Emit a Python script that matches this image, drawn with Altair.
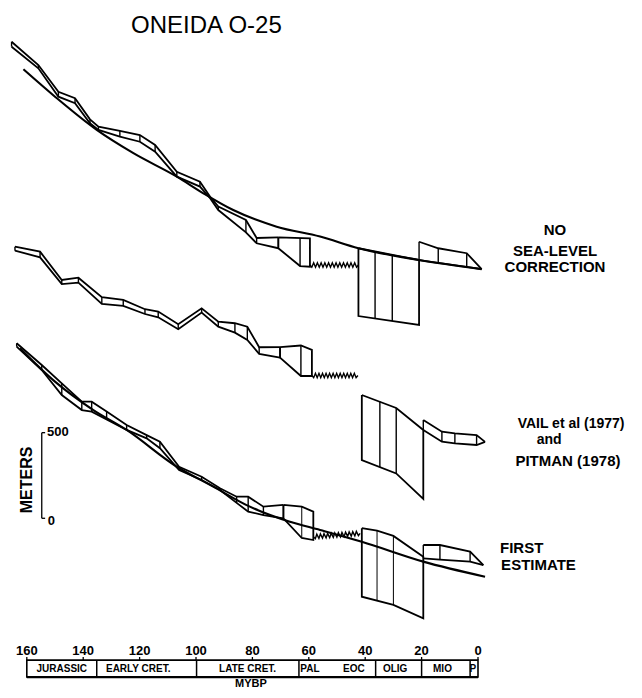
import altair as alt
import pandas as pd

# ---------------- values ----------------
# ages in Ma (MYBP), vertical values in metres on the figure's 0-500 m bar

# NO SEA-LEVEL CORRECTION (top panel)
TOP_AGE = [165.4, 155.9, 148.8, 142.9, 137.6, 134.6, 127.0, 119.9, 114.5, 106.8, 98.6, 95.0, 92.1, 82.3, 78.5, 70.8]
TOP_HI = [2783, 2647, 2491, 2453, 2330, 2287, 2262, 2238, 2180, 2024, 1966, 1878, 1820, 1742, 1637, 1640]
TOP_LO = [2754, 2628, 2462, 2424, 2307, 2268, 2229, 2199, 2141, 1995, 1937, 1869, 1800, 1670, 1606, 1577]
TOP_CURVE_AGE = [161.2, 150.0, 135.2, 122.2, 106.8, 97.4, 86.8, 71.4, 56.0, 42.4, 20.9, -1.3]
TOP_CURVE_M = [2622, 2462, 2268, 2132, 1995, 1898, 1800, 1703, 1645, 1577, 1508, 1455]
TOP_TRAP_AGE = [70.8, 59.6, 59.6, 63.1, 70.8]
TOP_TRAP_M = [1640, 1635, 1469, 1473, 1577]
TOP_TRAP_INNER = [(63.1, 1637, 1473)]
TOP_BOX_AGE = [42.4, 20.9, 20.9, 42.4]
TOP_BOX_M = [1577, 1508, 1129, 1181]
TOP_BOX_INNER = [(36.5, 1558, 1167), (30.4, 1538, 1152)]
TOP_MIO_AGE = [20.9, 14.1, 4.0, -1.3]
TOP_MIO_HI = [1615, 1577, 1548, 1455]
TOP_MIO_LO = [1508, 1492, 1468, 1455]
TOP_GAP = [(59.6, 1469), (42.4, 1489)]

# VAIL et al (1977) and PITMAN (1978) (middle panel)
MID_AGE = [164.2, 155.3, 147.6, 141.7, 133.4, 125.8, 118.1, 113.4, 106.3, 98.0, 92.1, 86.2, 81.8, 77.6, 70.2]
MID_HI = [1586, 1557, 1392, 1405, 1291, 1275, 1221, 1207, 1133, 1226, 1148, 1139, 1119, 999, 1000]
MID_LO = [1563, 1524, 1368, 1376, 1252, 1240, 1193, 1174, 1104, 1201, 1119, 1084, 1041, 960, 938]
MID_TRAP_AGE = [70.2, 62.8, 58.9, 58.9, 62.8, 70.2]
MID_TRAP_M = [1000, 1009, 983, 831, 831, 938]
MID_TRAP_INNER = [(62.8, 1009, 831)]
MID_BOX_AGE = [41.2, 29.0, 19.4, 19.4, 29.0, 41.2]
MID_BOX_M = [720, 644, 516, 113, 262, 340]
MID_BOX_INNER = [(34.8, 682, 300), (29.0, 644, 262)]
MID_MIO_AGE = [19.4, 12.8, 8.2, 0.5, -2.5]
MID_MIO_HI = [574, 506, 496, 486, 446]
MID_MIO_LO = [516, 447, 437, 428, 446]
MID_GAP = [(58.9, 831), (42.6, 837)]

# FIRST ESTIMATE (bottom panel)
BOT_AGE = [163.6, 154.7, 147.6, 140.5, 137.0, 131.7, 124.6, 117.5, 112.8, 106.0, 98.0, 91.5, 85.6, 81.5, 76.1, 69.0]
BOT_HI = [1022, 895, 788, 681, 681, 623, 545, 486, 447, 301, 243, 175, 126, 126, 68, 78]
BOT_LO = [1002, 866, 720, 632, 623, 577, 516, 467, 409, 282, 224, 165, 90, 39, 19, 0]
BOT_CURVE_AGE = [162.4, 150.0, 136.4, 124.6, 106.8, 93.9, 80.9, 66.7, 56.0, 41.2, 19.4, -2.5]
BOT_CURVE_M = [993, 798, 632, 516, 301, 185, 68, -20, -68, -137, -253, -341]
BOT_TRAP_AGE = [69.0, 62.5, 58.4, 58.4, 62.5, 69.0]
BOT_TRAP_M = [78, 68, 39, -127, -115, 0]
BOT_TRAP_INNER = [(62.5, 68, -115)]
BOT_BOX_AGE = [41.2, 35.8, 30.0, 19.4, 19.4, 30.0, 41.2]
BOT_BOX_M = [-58, -72, -103, -224, -584, -506, -458]
BOT_BOX_INNER = [(35.8, -72, -481), (30.0, -103, -506)]
BOT_MIO_AGE = [19.4, 13.5, 2.8, -1.9]
BOT_MIO_HI = [-156, -156, -195, -273]
BOT_MIO_LO = [-234, -241, -253, -273]
BOT_GAP = [(58.4, -107), (41.8, -88)]

# time scale
TICK_AGES = [160, 140, 120, 100, 80, 60, 40, 20, 0]
PERIOD_BOUNDS = [135.2, 99.8, 63.5, 36.3, 20.0, 2.8]
PERIOD_LABELS = ["JURASSIC", "EARLY CRET.", "LATE  CRET.", "PAL", "EOC", "OLIG", "MIO", "P"]
PERIOD_LABEL_AGES = [147.6, 120.5, 81.7, 59.6, 44.0, 29.4, 12.6, 1.8]
TIMESCALE_M = (-828, -927)
TICKLABEL_M = -775

# metre scale bar
BAR_AGE = 154.7
BAR_VALUES = [0, 500]

# ---------------- chart ----------------
W, H = 626, 682
X_DOMAIN = [166.67, -55.32]
Y_DOMAIN = [-1002.7, 2980.0]
PX_PER_MA = W / (X_DOMAIN[0] - X_DOMAIN[1])

xs = alt.Scale(domain=X_DOMAIN, nice=False, zero=False)
ys = alt.Scale(domain=Y_DOMAIN, nice=False, zero=False)
FONT = "Liberation Sans"

line_rows, curve_rows, tie_rows = [], [], []


def add_line(rows, name, ages, ms, closed=False):
    pts = list(zip(ages, ms))
    if closed:
        pts.append(pts[0])
    for i, (a, m) in enumerate(pts):
        rows.append({"g": name, "i": i, "age": a, "m": m})


def add_band(name, ages, hi, lo):
    add_line(line_rows, name + "_hi", ages, hi)
    add_line(line_rows, name + "_lo", ages, lo)
    for a, h, l in zip(ages, hi, lo):
        tie_rows.append({"age": a, "m1": h, "m2": l, "w": 1.4})


def add_inner(items, w=1.4):
    for a, h, l in items:
        tie_rows.append({"age": a, "m1": h, "m2": l, "w": w})


add_band("top", TOP_AGE, TOP_HI, TOP_LO)
add_band("topmio", TOP_MIO_AGE, TOP_MIO_HI, TOP_MIO_LO)
add_line(line_rows, "toptrap", TOP_TRAP_AGE, TOP_TRAP_M, closed=True)
add_line(line_rows, "topbox", TOP_BOX_AGE, TOP_BOX_M, closed=True)
add_inner(TOP_TRAP_INNER)
add_inner(TOP_BOX_INNER)
add_line(curve_rows, "topcurve", TOP_CURVE_AGE, TOP_CURVE_M)

add_band("mid", MID_AGE, MID_HI, MID_LO)
add_band("midmio", MID_MIO_AGE, MID_MIO_HI, MID_MIO_LO)
add_line(line_rows, "midtrap", MID_TRAP_AGE, MID_TRAP_M, closed=True)
add_line(line_rows, "midbox", MID_BOX_AGE, MID_BOX_M, closed=True)
add_inner(MID_TRAP_INNER)
add_inner(MID_BOX_INNER)

add_band("bot", BOT_AGE, BOT_HI, BOT_LO)
add_band("botmio", BOT_MIO_AGE, BOT_MIO_HI, BOT_MIO_LO)
add_line(line_rows, "bottrap", BOT_TRAP_AGE, BOT_TRAP_M, closed=True)
add_line(line_rows, "botbox", BOT_BOX_AGE, BOT_BOX_M, closed=True)
add_inner(BOT_TRAP_INNER, 1.0)
add_inner(BOT_BOX_INNER, 1.0)
add_line(curve_rows, "botcurve", BOT_CURVE_AGE, BOT_CURVE_M)

X = alt.X("age:Q", scale=xs, axis=None)
Y = alt.Y("m:Q", scale=ys, axis=None)

lines = alt.Chart(pd.DataFrame(line_rows)).mark_line(
    color="black", strokeWidth=1.8, strokeJoin="miter"
).encode(x=X, y=Y, detail="g:N", order="i:Q")

curves = alt.Chart(pd.DataFrame(curve_rows)).mark_line(
    color="black", strokeWidth=2.1, interpolate="monotone"
).encode(x=X, y=Y, detail="g:N", order="i:Q")

ties = alt.Chart(pd.DataFrame(tie_rows)).mark_rule(color="black").encode(
    x=alt.X("age:Q", scale=xs, axis=None),
    y=alt.Y("m1:Q", scale=ys, axis=None),
    y2="m2:Q",
    strokeWidth=alt.StrokeWidth("w:Q", scale=None),
)


def zigzag_shape(teeth, amp):
    n = teeth * 2
    pts = []
    for k in range(n + 1):
        x = -1 + 2 * k / n
        y = 0 if k in (0, n) else (amp if k % 2 else -amp)
        pts.append(f"{x:.4f},{y:.4f}")
    return "M" + "L".join(pts)


def zigzag(gap, angle=0):
    (a1, m1), (a2, m2) = gap
    width_px = abs(a1 - a2) * PX_PER_MA
    df = pd.DataFrame({"age": [(a1 + a2) / 2], "m": [(m1 + m2) / 2]})
    kw = dict(shape=zigzag_shape(int(round(width_px / 3.6)), 2.2 / (width_px / 2)),
              size=width_px ** 2, filled=False, stroke="black", strokeWidth=1.4, opacity=1)
    if angle:
        kw["angle"] = angle
    return alt.Chart(df).mark_point(**kw).encode(x=X, y=Y)


zigs = [zigzag(TOP_GAP), zigzag(MID_GAP), zigzag(BOT_GAP, 356)]


def label(txt, age, m, size, align="center", weight="bold", angle=None, baseline="middle"):
    df = pd.DataFrame({"t": [txt], "age": [age], "m": [m]})
    kw = dict(font=FONT, fontSize=size, fontWeight=weight, align=align, baseline=baseline, color="black")
    if angle is not None:
        kw["angle"] = angle
    return alt.Chart(df).mark_text(**kw).encode(x=X, y=Y, text="t:N")


texts = [
    label("ONEIDA O-25", 96.3, 2875, 24, weight="normal"),
    label("NO", -27.3, 1684, 15),
    label("SEA-LEVEL", -27.3, 1561, 15),
    label("CORRECTION", -27.3, 1470, 15),
    label("VAIL et al (1977)", -33.0, 551, 14),
    label("and", -25.2, 457, 14),
    label("PITMAN (1978)", -31.9, 332, 15),
    label("FIRST", -7.8, -173, 15, align="left"),
    label("ESTIMATE", -8.2, -273, 15, align="left"),
    label("METERS", 160.0, 224, 16, angle=270),
    label("500", 152.8, 506, 13, align="left"),
    label("0", 152.6, -16, 13, align="left"),
    label("MYBP", 80.5, -970, 11),
]

# metre scale bar
bar_df = pd.DataFrame({"age": [BAR_AGE], "m1": [BAR_VALUES[0]], "m2": [BAR_VALUES[1]]})
bar = alt.Chart(bar_df).mark_rule(color="black", strokeWidth=1.3).encode(
    x=alt.X("age:Q", scale=xs, axis=None), y=alt.Y("m1:Q", scale=ys, axis=None), y2="m2:Q")
bar_ticks_df = pd.DataFrame({"a1": [BAR_AGE] * 2, "a2": [BAR_AGE - 1.2] * 2, "m": BAR_VALUES})
bar_ticks = alt.Chart(bar_ticks_df).mark_rule(color="black", strokeWidth=1.3).encode(
    x=alt.X("a1:Q", scale=xs, axis=None), x2="a2:Q", y=alt.Y("m:Q", scale=ys, axis=None))

# time scale
ts_top, ts_bot = TIMESCALE_M
box_df = pd.DataFrame({"a1": [TICK_AGES[0]], "a2": [TICK_AGES[-1]], "m1": [ts_top], "m2": [ts_bot]})
ts_box = alt.Chart(box_df).mark_rect(fillOpacity=0, stroke="black", strokeWidth=1.6).encode(
    x=alt.X("a1:Q", scale=xs, axis=None), x2="a2:Q",
    y=alt.Y("m1:Q", scale=ys, axis=None), y2="m2:Q")
ts_bottom = alt.Chart(box_df).mark_rule(color="black", strokeWidth=2.2).encode(
    x=alt.X("a1:Q", scale=xs, axis=None), x2="a2:Q", y=alt.Y("m2:Q", scale=ys, axis=None))
div_df = pd.DataFrame({"age": PERIOD_BOUNDS, "m1": [ts_top] * len(PERIOD_BOUNDS), "m2": [ts_bot] * len(PERIOD_BOUNDS)})
ts_div = alt.Chart(div_df).mark_rule(color="black", strokeWidth=1.5).encode(
    x=alt.X("age:Q", scale=xs, axis=None), y=alt.Y("m1:Q", scale=ys, axis=None), y2="m2:Q")
tick_df = pd.DataFrame({"age": TICK_AGES, "m1": [ts_top] * len(TICK_AGES), "m2": [ts_top + 18] * len(TICK_AGES),
                        "t": [str(a) for a in TICK_AGES], "mt": [TICKLABEL_M] * len(TICK_AGES)})
ts_ticks = alt.Chart(tick_df).mark_rule(color="black", strokeWidth=1.3).encode(
    x=alt.X("age:Q", scale=xs, axis=None), y=alt.Y("m1:Q", scale=ys, axis=None), y2="m2:Q")
ts_ticklabels = alt.Chart(tick_df).mark_text(font=FONT, fontSize=13, fontWeight="bold", color="black").encode(
    x=alt.X("age:Q", scale=xs, axis=None), y=alt.Y("mt:Q", scale=ys, axis=None), text="t:N")
per_df = pd.DataFrame({"age": PERIOD_LABEL_AGES, "t": PERIOD_LABELS,
                       "m": [(ts_top + ts_bot) / 2] * len(PERIOD_LABELS)})
ts_labels = alt.Chart(per_df).mark_text(font=FONT, fontSize=10, fontWeight="bold", color="black").encode(
    x=X, y=Y, text="t:N")

chart = alt.layer(
    lines, curves, ties, *zigs, bar, bar_ticks,
    ts_box, ts_bottom, ts_div, ts_ticks, ts_ticklabels, ts_labels, *texts
).properties(
    width=W, height=H, padding=0, autosize=alt.AutoSizeParams(type="none"), background="white"
).configure_view(stroke=None)

chart.save("out.html", embed_options={"renderer": "svg", "actions": False})
